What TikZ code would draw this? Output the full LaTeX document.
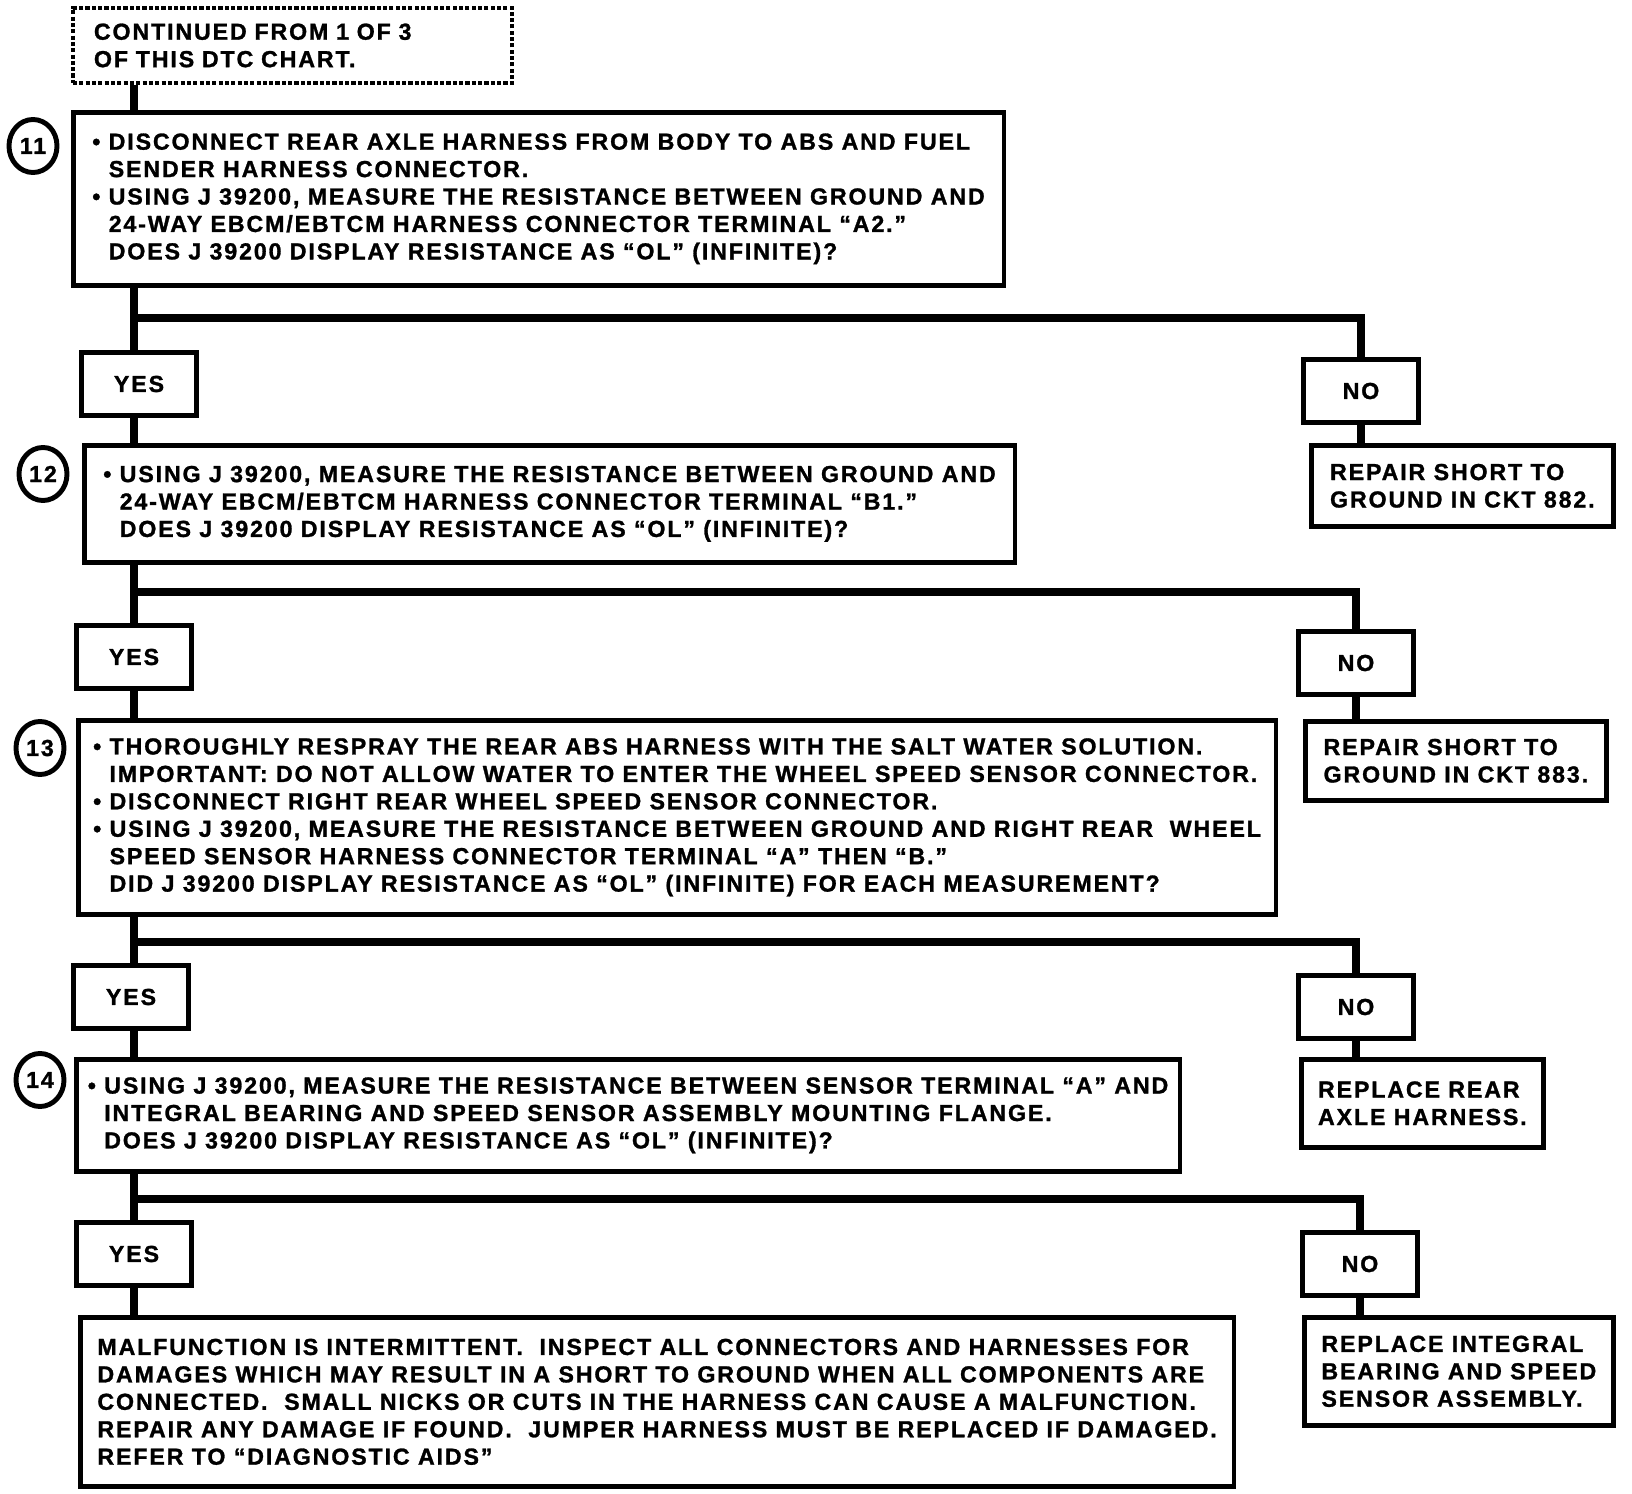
\documentclass[tikz,border=0pt]{standalone}
\usepackage{fontspec}
\newfontfamily\chartfont[LetterSpace=8, BoldFeatures={FakeBold=1.2}]{Liberation Sans}
\usetikzlibrary{shapes.geometric}
\newcommand{\hang}{\phantom{\textbullet\ }}

\begin{document}
\begin{tikzpicture}[x=0.01cm, y=-0.01cm,
        every node/.style={font=\chartfont\bfseries\fontsize{6.6}{7.8}\selectfont},
        contbx/.style={draw, dash pattern=on 1.2pt off 0.6pt, line width=1.1pt, anchor=north west,
                       align=left, text width=3.97cm, inner xsep=0.21cm, minimum height=0.75cm},
        stepbx/.style={draw, line width=1.3pt, fill=white, anchor=north west, align=left, inner sep=0pt},
        ansbx/.style={draw, line width=1.3pt, fill=white, minimum width=1.15cm, minimum height=0.63cm},
        numc/.style={ellipse, draw, line width=1.4pt, minimum width=0.48cm, minimum height=0.53cm, inner sep=0pt},
        conn/.style={line width=2.4pt}
      ]
        \useasboundingbox (0,0) rectangle (1632,1494);
        % left column
        \node[contbx] (cont) at (71,6) {CONTINUED FROM 1 OF 3\\OF THIS DTC CHART.};
        \node[stepbx, minimum width=9.30cm, minimum height=1.73cm] (b11) at (71,110) {%
          \textbullet\ DISCONNECT REAR AXLE HARNESS FROM BODY TO ABS AND FUEL\\
          \hang SENDER HARNESS CONNECTOR.\\
          \textbullet\ USING J 39200, MEASURE THE RESISTANCE BETWEEN GROUND AND\\
          \hang 24-WAY EBCM/EBTCM HARNESS CONNECTOR TERMINAL “A2.”\\
          \hang DOES J 39200 DISPLAY RESISTANCE AS “OL” (INFINITE)?};
        \node[stepbx, minimum width=9.30cm, minimum height=1.17cm] (b12) at (82,443) {%
          \textbullet\ USING J 39200, MEASURE THE RESISTANCE BETWEEN GROUND AND\\
          \hang 24-WAY EBCM/EBTCM HARNESS CONNECTOR TERMINAL “B1.”\\
          \hang DOES J 39200 DISPLAY RESISTANCE AS “OL” (INFINITE)?};
        \node[stepbx, minimum width=11.97cm, minimum height=1.94cm] (b13) at (76,718) {%
          \textbullet\ THOROUGHLY RESPRAY THE REAR ABS HARNESS WITH THE SALT WATER SOLUTION.\\
          \hang IMPORTANT: DO NOT ALLOW WATER TO ENTER THE WHEEL SPEED SENSOR CONNECTOR.\\
          \textbullet\ DISCONNECT RIGHT REAR WHEEL SPEED SENSOR CONNECTOR.\\
          \textbullet\ USING J 39200, MEASURE THE RESISTANCE BETWEEN GROUND AND RIGHT REAR\ \ WHEEL\\
          \hang SPEED SENSOR HARNESS CONNECTOR TERMINAL “A” THEN “B.”\\
          \hang DID J 39200 DISPLAY RESISTANCE AS “OL” (INFINITE) FOR EACH MEASUREMENT?};
        \node[stepbx, minimum width=11.03cm, minimum height=1.12cm] (b14) at (74,1057) {%
          \textbullet\ USING J 39200, MEASURE THE RESISTANCE BETWEEN SENSOR TERMINAL “A” AND\\
          \hang INTEGRAL BEARING AND SPEED SENSOR ASSEMBLY MOUNTING FLANGE.\\
          \hang DOES J 39200 DISPLAY RESISTANCE AS “OL” (INFINITE)?};
        \node[stepbx, minimum width=11.53cm, minimum height=1.69cm] (fin) at (78,1315) {%
          MALFUNCTION IS INTERMITTENT.\ \ INSPECT ALL CONNECTORS AND HARNESSES FOR\\
          DAMAGES WHICH MAY RESULT IN A SHORT TO GROUND WHEN ALL COMPONENTS ARE\\
          CONNECTED.\ \ SMALL NICKS OR CUTS IN THE HARNESS CAN CAUSE A MALFUNCTION.\\
          REPAIR ANY DAMAGE IF FOUND.\ \ JUMPER HARNESS MUST BE REPLACED IF DAMAGED.\\
          REFER TO “DIAGNOSTIC AIDS”};
        \foreach \n/\x/\y in {11/33/146, 12/43/474, 13/40/748, 14/40/1080} { \node[numc] (c\n) at (\x,\y) {\n}; }
        \foreach \i/\x/\y in {1/139/384, 2/134/657, 3/131/997, 4/134/1254} { \node[ansbx] (y\i) at (\x,\y) {YES}; }
        % right column
        \foreach \i/\x/\y in {1/1361/391, 2/1356/663, 3/1356/1007, 4/1360/1264} { \node[ansbx] (n\i) at (\x,\y) {NO}; }
        \node[stepbx, minimum width=3.02cm, minimum height=0.81cm] (r1) at (1309,443) {REPAIR SHORT TO\\GROUND IN CKT 882.};
        \node[stepbx, minimum width=3.01cm, minimum height=0.79cm] (r2) at (1303,719) {REPAIR SHORT TO\\GROUND IN CKT 883.};
        \node[stepbx, minimum width=2.42cm, minimum height=0.88cm] (r3) at (1299,1057) {REPLACE REAR\\AXLE HARNESS.};
        \node[stepbx, minimum width=3.09cm, minimum height=1.08cm] (r4) at (1302,1315) {REPLACE INTEGRAL\\BEARING AND SPEED\\SENSOR ASSEMBLY.};
        % connectors
        \coordinate (t) at (134,0);
        \draw[conn] (cont.south -| t) -- (b11.north -| t);
        \foreach \i/\a/\b/\h in {1/b11/b12/318, 2/b12/b13/592, 3/b13/b14/942, 4/b14/fin/1199} {
          \coordinate (s\i) at (134,\h);
          \draw[conn] (\a.south -| t) -- (y\i.north -| t);
          \draw[conn] (y\i.south -| t) -- (\b.north -| t);
          \draw[conn] (s\i) -| (n\i.north);
          \draw[conn] (n\i.south) -- (n\i.south |- r\i.north);
        }
      \end{tikzpicture}
\end{document}
